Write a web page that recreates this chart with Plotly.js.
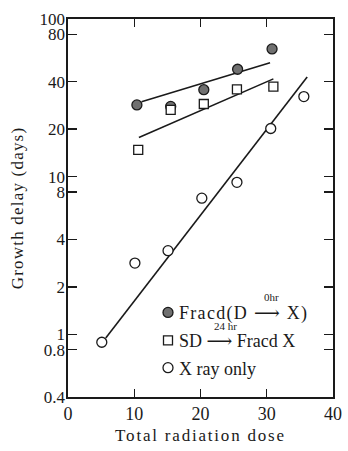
<!DOCTYPE html>
<html>
<head>
<meta charset="utf-8">
<script src="https://cdn.plot.ly/plotly-3.0.1.min.js"></script>
<style>
html,body{margin:0;padding:0;background:#fff;}
#chart{width:348px;height:451px;}
.xtitle{letter-spacing:1.8px;}
.ytitle{letter-spacing:1.2px;}
.legendtext{letter-spacing:1.3px;}
g.legendpoints{transform:translateX(9px);}
</style>
</head>
<body>
<div id="chart"></div>
<script>
// ---- data ----
const fracdDose   = [10.4, 15.5, 20.5, 25.6, 30.8];
const fracdDelay  = [28.5, 27.9, 35.6, 48, 64.6];

const sdDose      = [10.6, 15.5, 20.5, 25.5, 31.0];
const sdDelay     = [14.8, 26.5, 28.9, 35.8, 37.2];

const xrayDose    = [5.1, 10.1, 15.1, 20.2, 25.5, 30.6, 35.6];
const xrayDelay   = [0.89, 2.83, 3.39, 7.3, 9.2, 20.2, 32.2];

// fitted lines (end points)
const fracdFitX = [11.1, 30.5];
const fracdFitY = [29.9, 52.7];
const sdFitX    = [10.7, 31.0];
const sdFitY    = [17.7, 41.7];
const xrayFitX  = [5.7, 36.1];
const xrayFitY  = [0.948, 42.9];

const xTicks = [0, 10, 20, 30, 40];
const yTickVals = [0.4, 0.8, 1, 2, 4, 8, 10, 20, 40, 80, 100];
const yTickText = ['0.4', '0.8', '1', '2', '4', '8', '10', '20', '40', '80', '100'];

const seriesNames = ['Fracd(D \u27F6 X)', 'SD \u27F6 Fracd X', 'X ray only'];
const arrowLabels = ['0hr', '24 hr'];

const FONT = 'Liberation Serif, DejaVu Serif, serif';
const INK = '#1a1a1a';

const lineStyle = {color: INK, width: 1.6};

const traces = [
  {x: fracdFitX, y: fracdFitY, mode: 'lines', line: lineStyle, showlegend: false, hoverinfo: 'skip'},
  {x: sdFitX, y: sdFitY, mode: 'lines', line: lineStyle, showlegend: false, hoverinfo: 'skip'},
  {x: xrayFitX, y: xrayFitY, mode: 'lines', line: lineStyle, showlegend: false, hoverinfo: 'skip'},
  {x: fracdDose, y: fracdDelay, mode: 'markers', name: seriesNames[0], legend: 'legend',
   marker: {symbol: 'circle', size: 10, color: '#707070', line: {color: INK, width: 1.3}}},
  {x: sdDose, y: sdDelay, mode: 'markers', name: seriesNames[1], legend: 'legend2',
   marker: {symbol: 'square', size: 9, color: '#ffffff', line: {color: INK, width: 1.3}}},
  {x: xrayDose, y: xrayDelay, mode: 'markers', name: seriesNames[2], legend: 'legend3',
   marker: {symbol: 'circle', size: 10, color: '#ffffff', line: {color: INK, width: 1.3}}}
];

function legendAt(yPix){
  return {
    x: (139 - 68) / 265, xanchor: 'left',
    y: 1 - (yPix - 19) / 378, yanchor: 'middle',
    bgcolor: 'rgba(0,0,0,0)', borderwidth: 0,
    font: {family: FONT, size: 18, color: INK},
    itemwidth: 30
  };
}

function pxToX(px){ return (px - 68) / 265 * 40; }
function pxToLogY(py){ return 2 - (py - 19) / 378 * (2 - Math.log10(0.4)); }

const layout = {
  width: 348, height: 451,
  margin: {l: 68, r: 15, t: 19, b: 54},
  paper_bgcolor: '#fff', plot_bgcolor: '#fff',
  font: {family: FONT, size: 17, color: INK},
  showlegend: true,
  xaxis: {
    range: [0, 40], tickvals: xTicks, ticktext: xTicks.map(String),
    ticks: 'inside', ticklen: 8, tickwidth: 1.4, tickcolor: INK,
    showline: true, linecolor: INK, linewidth: 1.6, mirror: 'ticks',
    showgrid: false, zeroline: false,
    tickfont: {family: FONT, size: 18, color: INK},
    title: {text: 'Total radiation dose', font: {family: FONT, size: 17, color: INK}, standoff: 6}
  },
  yaxis: {
    type: 'log', range: [Math.log10(0.4), 2],
    tickvals: yTickVals, ticktext: yTickText,
    ticks: 'inside', ticklen: 9, tickwidth: 1.4, tickcolor: INK,
    showline: true, linecolor: INK, linewidth: 1.6, mirror: 'ticks',
    showgrid: false, zeroline: false,
    ticklabelstandoff: -2,
    tickfont: {family: FONT, size: 17, color: INK},
    title: {text: 'Growth delay (days)', font: {family: FONT, size: 17, color: INK}, standoff: 11}
  },
  legend: legendAt(312.7),
  legend2: legendAt(340.7),
  legend3: legendAt(368),
  annotations: [
    {xref: 'x', yref: 'y', x: pxToX(271), y: pxToLogY(297), text: arrowLabels[0], showarrow: false,
     font: {family: FONT, size: 11, color: INK}, xanchor: 'center', yanchor: 'middle'},
    {xref: 'x', yref: 'y', x: pxToX(225), y: pxToLogY(326), text: arrowLabels[1], showarrow: false,
     font: {family: FONT, size: 11, color: INK}, xanchor: 'center', yanchor: 'middle'}
  ]
};

Plotly.newPlot('chart', traces, layout, {displayModeBar: false, staticPlot: true});
</script>
</body>
</html>
